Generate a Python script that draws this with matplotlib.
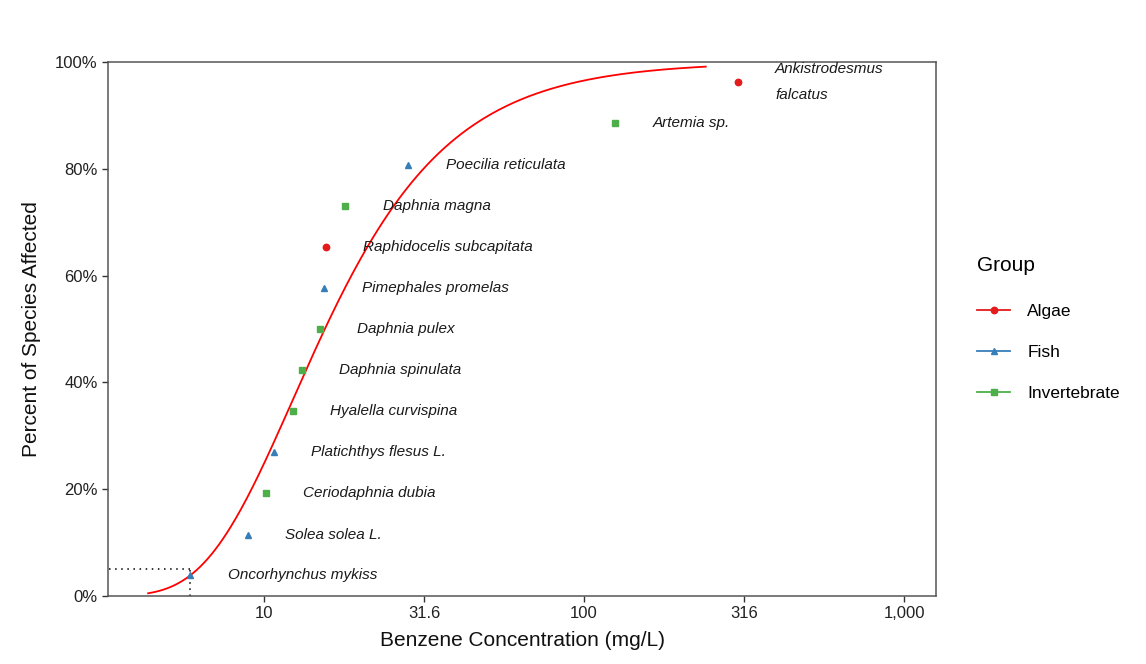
import numpy as np
import matplotlib.pyplot as plt
from matplotlib.lines import Line2D
from matplotlib.ticker import FixedLocator, NullLocator

plt.rcParams['font.family'] = ['Liberation Sans', 'DejaVu Sans']

# species data (concentration in mg/L, plotting position in %)
species = ['Oncorhynchus mykiss', 'Solea solea L.', 'Ceriodaphnia dubia',
           'Platichthys flesus L.', 'Hyalella curvispina', 'Daphnia spinulata',
           'Daphnia pulex', 'Pimephales promelas', 'Raphidocelis subcapitata',
           'Daphnia magna', 'Poecilia reticulata', 'Artemia sp.',
           'Ankistrodesmus\nfalcatus']
group = ['Fish', 'Fish', 'Invertebrate', 'Fish', 'Invertebrate', 'Invertebrate',
         'Invertebrate', 'Fish', 'Algae', 'Invertebrate', 'Fish', 'Invertebrate',
         'Algae']
conc = [5.87, 8.9, 10.1, 10.7, 12.3, 13.1, 14.9, 15.4, 15.6, 17.9, 28.2, 125, 302]
percent = [3.85, 11.5, 19.2, 26.9, 34.6, 42.3, 50.0, 57.7, 65.4, 73.1, 80.8, 88.5, 96.2]

# fitted distribution (log-Gumbel on log10 scale) and hazard concentration
fit_mu = 1.09
fit_scale = 0.272
fit_range = [4.34, 240]
hc5 = 5.87

colors = {'Algae': '#E41A1C', 'Fish': '#377EB8', 'Invertebrate': '#4DAF4A'}
markers = {'Algae': 'o', 'Fish': '^', 'Invertebrate': 's'}

fig = plt.figure(figsize=(11.46, 6.64), dpi=100)
ax = fig.add_axes([0.0942, 0.1024, 0.7226, 0.8042])

xs = np.logspace(np.log10(fit_range[0]), np.log10(fit_range[1]), 300)
ys = np.exp(-np.exp(-(np.log10(xs) - fit_mu) / fit_scale)) * 100
ax.plot(xs, ys, color='red', lw=1.3, zorder=2)

# hc5 dotted lines
ax.plot([1, hc5], [5, 5], color='black', lw=1.1, ls=(0, (1, 3)), zorder=1)
ax.plot([hc5, hc5], [0, 5], color='black', lw=1.1, ls=(0, (1, 3)), zorder=1)

for sp, g, c, p in zip(species, group, conc, percent):
    ax.plot(c, p, marker=markers[g], color=colors[g], ms=4.6, ls='none', zorder=3)
    ax.annotate(sp, (c, p), xytext=(27, 0), textcoords='offset points',
                ha='left', va='center', fontsize=11, style='italic',
                color='#1a1a1a', linespacing=2.1)

ax.set_xscale('log')
ax.set_xlim(3.25, 1259)
ax.set_ylim(0, 100)
ax.xaxis.set_major_locator(FixedLocator([10, 31.6, 100, 316, 1000]))
ax.xaxis.set_minor_locator(NullLocator())
ax.set_xticklabels(['10', '31.6', '100', '316', '1,000'])
ax.set_yticks([0, 20, 40, 60, 80, 100])
ax.set_yticklabels(['0%', '20%', '40%', '60%', '80%', '100%'])
ax.tick_params(labelsize=12, colors='#333333', length=4, width=1, labelcolor='#222222')
for s in ax.spines.values():
    s.set_color('#555555')
    s.set_linewidth(1.1)

ax.set_xlabel('Benzene Concentration (mg/L)', fontsize=15, color='#111111', labelpad=7)
ax.set_ylabel('Percent of Species Affected', fontsize=15, color='#111111', labelpad=10)

handles = [Line2D([], [], color=colors[g], marker=markers[g], ms=4.6, lw=1.3)
           for g in ['Algae', 'Fish', 'Invertebrate']]
leg = fig.legend(handles, ['Algae', 'Fish', 'Invertebrate'], title='Group',
                 loc='upper left', bbox_to_anchor=(0.845, 0.628), frameon=False,
                 fontsize=12.5, title_fontsize=15, handlelength=1.9,
                 labelspacing=1.5, handletextpad=1.0, borderpad=0)
leg._legend_box.align = 'left'
leg._legend_box.sep = 21

fig.savefig('out.png', dpi=100)
